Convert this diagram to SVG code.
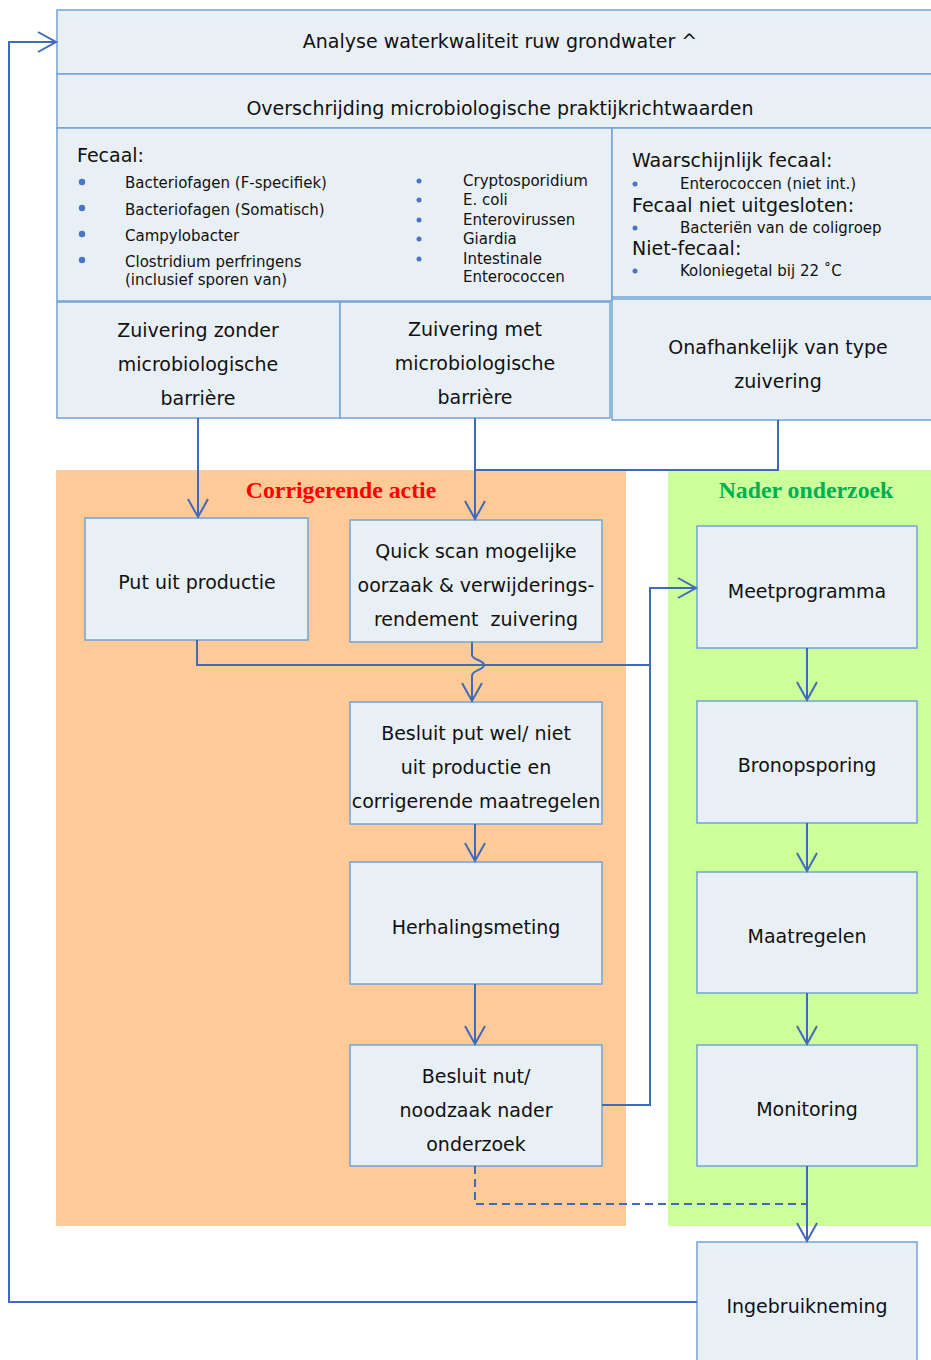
<svg xmlns="http://www.w3.org/2000/svg" width="931" height="1360" viewBox="0 0 931 1360">
<defs>
<style>
.box{fill:#E9F0F5;stroke:#72A3D4;stroke-width:1.5}
.t{font-family:"DejaVu Sans",Verdana,sans-serif;font-size:19px;fill:#111;text-anchor:middle}
.s{font-family:"DejaVu Sans",Verdana,sans-serif;font-size:15px;fill:#111}
.h{font-family:"DejaVu Sans",Verdana,sans-serif;font-size:19px;fill:#111}
.ttl{font-family:"Liberation Serif","Times New Roman",serif;font-size:23.8px;font-weight:bold;text-anchor:middle}
.c{fill:none;stroke:#4169BA;stroke-width:2}
.d{fill:#4A74C8}
</style>
<marker id="arr" markerWidth="22" markerHeight="24" refX="19" refY="11" orient="auto" markerUnits="userSpaceOnUse">
<path d="M1,1 L19,11 L1,21" fill="none" stroke="#4169BA" stroke-width="2"/>
</marker>
</defs>
<rect width="931" height="1360" fill="#ffffff"/>
<rect id="zone-corrigerend" x="56" y="470" width="570" height="756" fill="#FECB98"/>
<rect id="zone-nader" x="668" y="470" width="270" height="756" fill="#CCFF99"/>
<text class="ttl" x="341" y="498" fill="#FF0000">Corrigerende actie</text>
<text class="ttl" x="806" y="498" fill="#00B050">Nader onderzoek</text>

<g id="analyse">
<rect class="box" x="57" y="10" width="890" height="64"/>
<text class="t" x="500" y="48">Analyse waterkwaliteit ruw grondwater ^</text>
</g>
<g id="overschrijding">
<rect class="box" x="57" y="74" width="890" height="54"/>
<text class="t" x="500" y="115">Overschrijding microbiologische praktijkrichtwaarden</text>
</g>
<g id="fecaal">
<rect class="box" x="57" y="128" width="555" height="173"/>
<text class="h" x="77" y="162">Fecaal:</text>
<circle class="d" cx="82" cy="182" r="3.2"/>
<circle class="d" cx="82" cy="208" r="3.2"/>
<circle class="d" cx="82" cy="234" r="3.2"/>
<circle class="d" cx="82" cy="260" r="3.2"/>
<text class="s" x="125" y="188">Bacteriofagen (F-specifiek)</text>
<text class="s" x="125" y="215">Bacteriofagen (Somatisch)</text>
<text class="s" x="125" y="241">Campylobacter</text>
<text class="s" x="125" y="267">Clostridium perfringens</text>
<text class="s" x="125" y="285">(inclusief sporen van)</text>
<circle class="d" cx="419" cy="181" r="2.5"/>
<circle class="d" cx="419" cy="200" r="2.5"/>
<circle class="d" cx="419" cy="220" r="2.5"/>
<circle class="d" cx="419" cy="239" r="2.5"/>
<circle class="d" cx="419" cy="259" r="2.5"/>
<text class="s" x="463" y="186">Cryptosporidium</text>
<text class="s" x="463" y="205">E. coli</text>
<text class="s" x="463" y="225">Enterovirussen</text>
<text class="s" x="463" y="244">Giardia</text>
<text class="s" x="463" y="264">Intestinale</text>
<text class="s" x="463" y="282">Enterococcen</text>
</g>
<g id="waarschijnlijk">
<rect class="box" x="612" y="128" width="330" height="169"/>
<text class="h" x="632" y="167">Waarschijnlijk fecaal:</text>
<circle class="d" cx="635" cy="184" r="2.5"/>
<text class="s" x="680" y="189">Enterococcen (niet int.)</text>
<text class="h" x="632" y="212">Fecaal niet uitgesloten:</text>
<circle class="d" cx="635" cy="228" r="2.5"/>
<text class="s" x="680" y="233">Bacteriën van de coligroep</text>
<text class="h" x="632" y="255">Niet-fecaal:</text>
<circle class="d" cx="635" cy="271" r="2.5"/>
<text class="s" x="680" y="276">Koloniegetal bij 22 ˚C</text>
</g>
<g id="zonder">
<rect class="box" x="57" y="302" width="283" height="116"/>
<text class="t" x="198" y="337">Zuivering zonder</text>
<text class="t" x="198" y="371">microbiologische</text>
<text class="t" x="198" y="405">barrière</text>
</g>
<g id="met">
<rect class="box" x="340" y="302" width="270" height="116"/>
<text class="t" x="475" y="336">Zuivering met</text>
<text class="t" x="475" y="370">microbiologische</text>
<text class="t" x="475" y="404">barrière</text>
</g>
<g id="onafhankelijk">
<rect class="box" x="612" y="299" width="330" height="121"/>
<text class="t" x="778" y="354">Onafhankelijk van type</text>
<text class="t" x="778" y="388">zuivering</text>
</g>
<g id="put-uit">
<rect class="box" x="85" y="518" width="223" height="122"/>
<text class="t" x="197" y="589">Put uit productie</text>
</g>
<g id="quickscan">
<rect class="box" x="350" y="520" width="252" height="122"/>
<text class="t" x="476" y="558">Quick scan mogelijke</text>
<text class="t" x="476" y="592">oorzaak &amp; verwijderings-</text>
<text class="t" x="476" y="626" style="white-space:pre">rendement  zuivering</text>
</g>
<g id="besluit-put">
<rect class="box" x="350" y="702" width="252" height="122"/>
<text class="t" x="476" y="740">Besluit put wel/ niet</text>
<text class="t" x="476" y="774">uit productie en</text>
<text class="t" x="476" y="808">corrigerende maatregelen</text>
</g>
<g id="herhaling">
<rect class="box" x="350" y="862" width="252" height="122"/>
<text class="t" x="476" y="934">Herhalingsmeting</text>
</g>
<g id="besluit-nut">
<rect class="box" x="350" y="1045" width="252" height="121"/>
<text class="t" x="476" y="1083">Besluit nut/</text>
<text class="t" x="476" y="1117">noodzaak nader</text>
<text class="t" x="476" y="1151">onderzoek</text>
</g>
<g id="meetprogramma">
<rect class="box" x="697" y="526" width="220" height="122"/>
<text class="t" x="807" y="598">Meetprogramma</text>
</g>
<g id="bronopsporing">
<rect class="box" x="697" y="701" width="220" height="122"/>
<text class="t" x="807" y="772">Bronopsporing</text>
</g>
<g id="maatregelen">
<rect class="box" x="697" y="872" width="220" height="121"/>
<text class="t" x="807" y="943">Maatregelen</text>
</g>
<g id="monitoring">
<rect class="box" x="697" y="1045" width="220" height="121"/>
<text class="t" x="807" y="1116">Monitoring</text>
</g>
<g id="ingebruikneming">
<rect class="box" x="697" y="1242" width="220" height="130"/>
<text class="t" x="807" y="1313">Ingebruikneming</text>
</g>

<g id="connectors">
<path class="c" d="M198,418 V517" marker-end="url(#arr)"/>
<path class="c" d="M475,418 V519" marker-end="url(#arr)"/>
<path class="c" d="M778,420 V470 H475"/>
<path class="c" d="M197,640 V665 H650 V588 H696" marker-end="url(#arr)"/>
<path class="c" d="M472,642 V655 C472,660 484,660 484,665 C484,670 472,670 472,676 V701" marker-end="url(#arr)"/>
<path class="c" d="M475,824 V861" marker-end="url(#arr)"/>
<path class="c" d="M475,984 V1044" marker-end="url(#arr)"/>
<path class="c" d="M602,1105 H650 V665"/>
<path class="c" d="M475,1166 V1204 H807" stroke-dasharray="8,5"/>
<path class="c" d="M807,648 V700" marker-end="url(#arr)"/>
<path class="c" d="M807,823 V871" marker-end="url(#arr)"/>
<path class="c" d="M807,993 V1044" marker-end="url(#arr)"/>
<path class="c" d="M807,1166 V1241" marker-end="url(#arr)"/>
<path class="c" d="M697,1302 H9 V42 H56" marker-end="url(#arr)"/>
</g>
</svg>
